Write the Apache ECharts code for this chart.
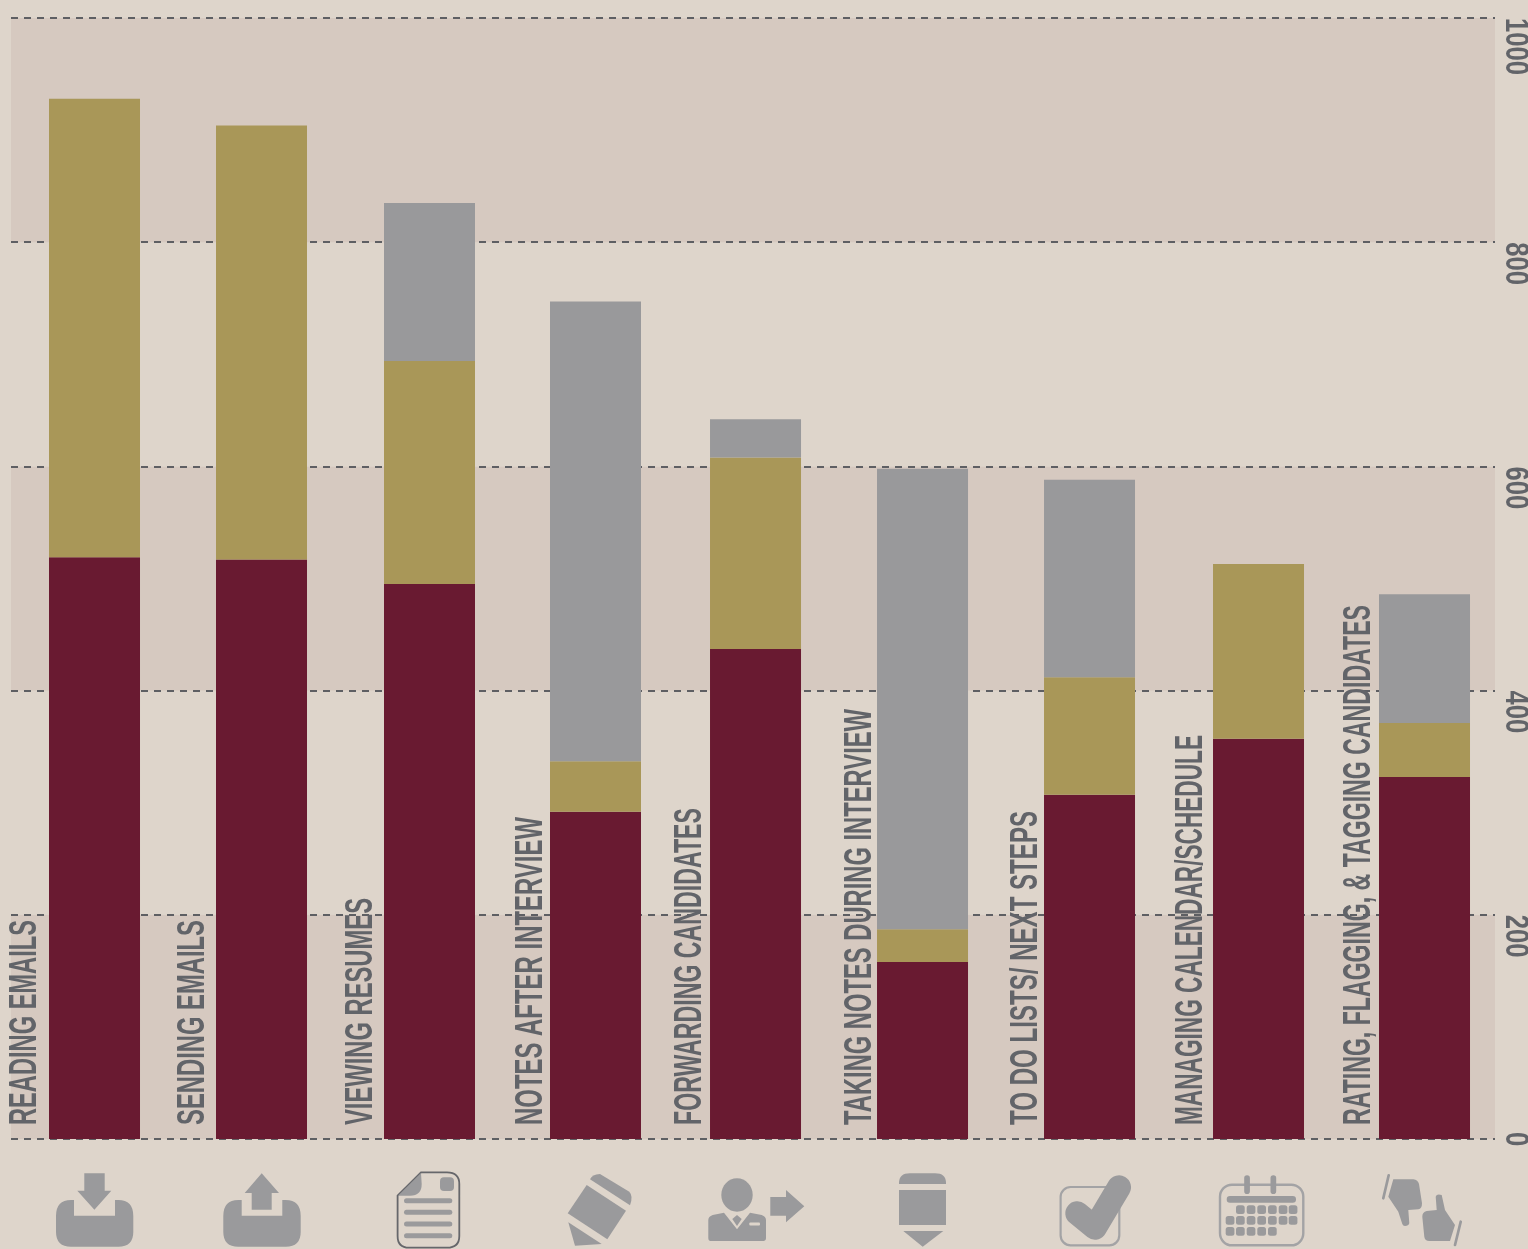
<!DOCTYPE html>
<html>
<head>
<meta charset="utf-8">
<style>html,body{margin:0;padding:0;background:#ded5cb}#chart{width:1528px;height:1249px}</style>
<script src="https://cdn.jsdelivr.net/npm/echarts@6/dist/echarts.min.js"></script>
</head>
<body>
<div id="chart"></div>
<script>
// Tasks, in descending order of total responses
const categories = ['READING EMAILS','SENDING EMAILS','VIEWING RESUMES','NOTES AFTER INTERVIEW','FORWARDING CANDIDATES','TAKING NOTES DURING INTERVIEW','TO DO LISTS/ NEXT STEPS','MANAGING CALENDAR/SCHEDULE','RATING, FLAGGING, & TAGGING CANDIDATES'];
const burgundyValues = [519,517,495,292,437,158,307,357,323];
const oliveValues = [409,387,199,45,171,29,105,156,48];
const greyValues = [null,null,141,410,34,411,176,null,115];
const tickValues = [0,200,400,600,800,1000];
const tickLabels = ['0','200','400','600','800','1000'];

// Slightly irregular column spacing along the hidden x scale
const columnSlots = [1,2.0045,3.015,4.0135,4.976,5.9805,6.985,8.0015,9];
const labelSlots = [0.660,1.671,2.681,3.704,4.660,5.683,6.681,7.674,8.684];
const labelLengths = [205,205,227,308,317,416,314,390,520];

const BG='#ded5cb', BAND='#d6c9c0', TEXT='#626469', ICON='#9a9a9c', OUTLINE='#a3a3a5';
const LABEL_FONT='bold 38px "Liberation Sans",sans-serif';
const TICK_FONT='bold 33px "Liberation Sans",sans-serif';

const measureCtx=document.createElement('canvas').getContext('2d');
function textWidth(t,font){measureCtx.font=font;return measureCtx.measureText(t).width;}

function path(d,style){
  const r=echarts.graphic.makePath(d).getBoundingRect();
  return {type:'path',shape:{pathData:d,x:r.x,y:r.y,width:r.width,height:r.height,layout:'cover'},style:Object.assign({fill:ICON},style||{})};
}
function poly(points){return {type:'polygon',shape:{points},style:{fill:ICON}};}
function box(x,y,w,h,r,fill){return {type:'rect',shape:{x,y,width:w,height:h,r:r||0},style:{fill:fill||ICON}};}
function frame(x,y,w,h,r,stroke,lw){return {type:'rect',shape:{x,y,width:w,height:h,r},style:{fill:'none',stroke,lineWidth:lw}};}
function stroke(points,lw,color){return {type:'polyline',shape:{points},style:{fill:'none',stroke:color||ICON,lineWidth:lw,lineCap:'round',lineJoin:'round'}};}
function tray(l,nl,nr,r){
  return path(`M${nl} 1200L${nl} 1215.7L${nr} 1215.7L${nr} 1200L${r-15} 1200Q${r} 1200 ${r} 1216L${r} 1232Q${r} 1246.7 ${r-15} 1246.7L${l+15} 1246.7Q${l} 1246.7 ${l} 1232L${l} 1216Q${l} 1200 ${l+15} 1200Z`);
}
function calendarCells(){
  const xs=[1225.7,1236,1246.7,1257.3,1268,1278.7,1288.7], out=[];
  const rows=[[1205.3,1,6],[1216,0,6],[1227,0,4]];
  rows.forEach(([y,a,b])=>{for(let i=a;i<=b;i++)out.push(box(xs[i],y,8.7,8.8,2.5));});
  return out;
}
// Row of pictograms under the columns
function iconChildren(){
  return [
    // inbox
    tray(56,74,115,133.3),
    poly([[84.3,1173.3],[104.7,1173.3],[104.7,1190.7],[111.3,1190.7],[94.4,1209.7],[77.3,1190.7],[84.3,1190.7]]),
    // outbox
    tray(223.3,241.7,282.3,300.7),
    poly([[261.7,1173.3],[279,1193],[271.7,1193],[271.7,1209.7],[251.7,1209.7],[251.7,1193],[244.7,1193]]),
    // document
    path('M421 1172.3L447 1172.3Q459.3 1172.3 459.3 1184L459.3 1236Q459.3 1247.7 447 1247.7L409 1247.7Q397.6 1247.7 397.6 1236L397.6 1195.7Z',{fill:'none',stroke:'#66676b',lineWidth:1.8}),
    path('M421 1173L398 1195.7L410 1195.7Q421.7 1195.7 421.7 1184Z'),
    box(440,1177.3,14,13.7,4),
    box(404,1198.2,48.3,5,2.5),box(404,1209.8,48.3,5,2.5),box(404,1221.5,48.3,5,2.5),box(404,1233.2,48.3,5,2.5),
    // pencil, tilted
    path('M590 1179.3Q592 1174.5 600 1174L629.3 1191.7Q633.5 1196 630 1205.3Z'),
    poly([[586.7,1185],[626,1210.7],[607.3,1239.3],[567.7,1213.3]]),
    poly([[568.3,1222.3],[601.7,1244],[575,1245.7]]),
    // candidate with forward arrow
    {type:'ellipse',shape:{cx:737,cy:1195,rx:15.7,ry:16.7},style:{fill:ICON}},
    path('M724 1212.7L737 1229.3L750 1212.7L761.7 1215Q766 1216.5 766 1220L766 1238.3Q766 1241 764 1241L710 1241Q708.3 1241 708.3 1238.3L708.3 1220Q708.3 1216.5 712.7 1215Z'),
    poly([[737,1215],[741.7,1219],[737,1226],[732.3,1219]]),
    box(749.3,1222.5,10.7,3,1,BG),
    poly([[770.3,1197],[786,1197],[786,1190],[804.3,1206.3],[786,1222.3],[786,1215.7],[770.3,1215.7]]),
    // pencil, upright
    path('M899 1184L899 1183Q899 1173.3 910 1173.3L935 1173.3Q946 1173.3 946 1183L946 1184Z'),
    box(899,1190,47,35),
    poly([[903.3,1231],[943.3,1231],[922.7,1246.7]]),
    // checked box
    frame(1060.6,1187,58.7,58.3,10,OUTLINE,2.2),
    stroke([[1077.3,1213.3],[1095,1227.7],[1119,1187.3]],24),
    // calendar
    frame(1220,1184.7,83.3,60.6,12,OUTLINE,2.4),
    box(1244.2,1175.3,5.7,18.7,2.8),box(1270.5,1175.3,5.7,18.7,2.8),
    box(1226.7,1196,69.3,6.7,3.3),
    ...calendarCells(),
    // thumbs down and up
    stroke([[1388.7,1175.3],[1383.3,1198.3]],2.7),
    path('M1393.3 1179.3L1413.3 1179.3Q1418 1180 1419 1184L1422 1203.3Q1422 1209 1418.3 1209.3L1408.3 1210L1409.3 1223.3Q1408.5 1226 1405 1226Q1403 1226 1402.3 1224L1398.3 1211.7L1388.3 1196.7Z'),
    path('M1441.7 1195Q1436.5 1193.5 1435.7 1196.7L1436.7 1210L1426.7 1211Q1422.3 1212 1422.3 1216.7L1424.3 1236.7Q1425 1241 1429.3 1241L1450 1241L1455 1225L1445 1210Z'),
    stroke([[1460.7,1221.7],[1455,1245]],2.7)
  ];
}

// The value comes first so that it is the dimension being stacked
const bar=(name,values,color)=>({
  name,type:'bar',stack:'total',barWidth:91,
  data:values.map((v,i)=>[v,columnSlots[i]]),
  encode:{x:1,y:0},
  itemStyle:{color},emphasis:{disabled:true},silent:true
});

const X_MAX=9.424;
const chart=echarts.init(document.getElementById('chart'),null,{renderer:'canvas'});
chart.setOption({
  animation:false,
  backgroundColor:BG,
  grid:{left:11,right:33,top:18,bottom:110},
  xAxis:{type:'value',min:0.4977,max:X_MAX,show:false,splitLine:{show:false}},
  yAxis:{
    type:'value',position:'right',min:0,max:1000,interval:200,
    axisLine:{show:false},axisTick:{show:false},axisLabel:{show:false},
    splitLine:{show:true,lineStyle:{type:[7,6],color:'#5e5f63',width:2}},
    splitArea:{show:true,areaStyle:{color:[BAND,BG],opacity:1}}
  },
  series:[
    bar('Burgundy',burgundyValues,'#691a31'),
    bar('Olive',oliveValues,'#a99758'),
    bar('Grey',greyValues,'#99999b'),
    {
      type:'custom',name:'Task labels',silent:true,z:5,
      data:categories.map((c,i)=>[labelSlots[i],0,c]),
      encode:{x:0,y:1},
      renderItem:(params,api)=>{
        const i=params.dataIndex,p=api.coord([api.value(0),0]);
        return {type:'text',x:p[0]-12.5,y:1125,rotation:Math.PI/2,
          scaleX:labelLengths[i]/textWidth(categories[i],LABEL_FONT),
          style:{text:categories[i],font:LABEL_FONT,fill:TEXT,align:'left',verticalAlign:'middle'}};
      }
    },
    {
      // Value labels run downward from their gridline, to the right of the plot
      type:'custom',name:'Value labels',silent:true,z:5,
      data:tickValues.map((v)=>[X_MAX,v]),
      encode:{x:0,y:1},
      renderItem:(params,api)=>{
        const i=params.dataIndex,p=api.coord([api.value(0),api.value(1)]),t=tickLabels[i];
        return {type:'text',x:p[0]+20.5,y:p[1],rotation:-Math.PI/2,
          scaleX:14.25*t.length/textWidth(t,TICK_FONT),
          style:{text:t,font:TICK_FONT,fill:TEXT,align:tickValues[i]===0?'center':'left',verticalAlign:'middle'}};
      }
    },
    {
      type:'custom',name:'Icons',coordinateSystem:'none',silent:true,z:6,data:[[0]],
      renderItem:()=>({type:'group',children:iconChildren()})
    }
  ]
});
</script>
</body>
</html>
